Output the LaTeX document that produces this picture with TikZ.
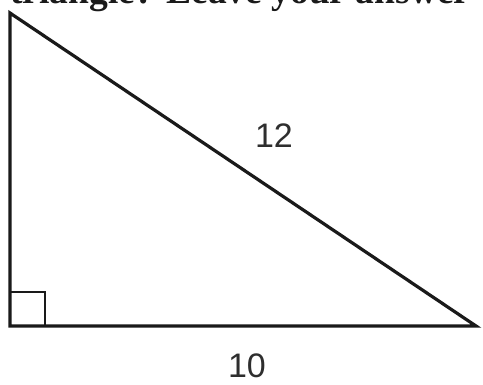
\documentclass[tikz,border=0pt]{standalone}
\usepackage{fontspec}
\setmainfont{Liberation Sans}
\newfontfamily\serifhead{Liberation Serif}
\definecolor{ink}{HTML}{1A1A1A}
\definecolor{lab}{HTML}{2E2E2E}
\begin{document}
\begin{tikzpicture}[x=1pt,y=-1pt,
  edge/.style={draw=ink,line width=3.2pt,line join=miter},
  marker/.style={draw=ink,line width=2.8pt},
  lbl/.style={text=lab,font=\fontsize{34}{34}\selectfont,inner sep=0pt}]
\useasboundingbox (0,0) rectangle (483,385);
\clip (0,0) rectangle (483,385);
\fill[white] (0,0) rectangle (483,385);
\node[anchor=base west,inner sep=0pt,text=ink,font=\serifhead\bfseries\fontsize{37.5}{37.5}\selectfont] (head) at (10,4) {triangle? Leave your answer};
\coordinate (A) at (10,13);
\coordinate (B) at (10,326);
\coordinate (C) at (476,326);
\draw[edge] (A) -- (B) -- (C) -- cycle;
\draw[marker] (10,292) -- (45,292) -- (45,326);
\node[lbl] (hyp) at (274,136) {12};
\node[lbl] (base) at (247,366) {10};
\end{tikzpicture}
\end{document}
